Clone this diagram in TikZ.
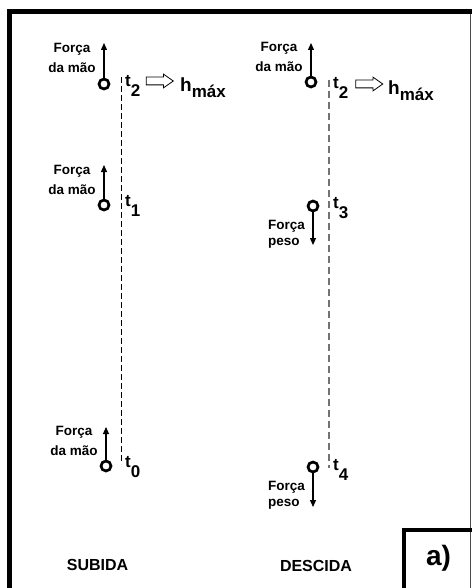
\documentclass[tikz,border=0pt]{standalone}
\usepackage{fontspec}
\setmainfont{Liberation Sans}
\usetikzlibrary{arrows.meta,shapes.arrows}
\newcommand{\tidx}[1]{t\lower10pt\hbox{#1}}
\newcommand{\hmaxtxt}{h\lower6pt\hbox{\fontsize{17}{17}\selectfont máx}}

\begin{document}
\begin{tikzpicture}[x=1pt, y=-1pt,
   ball/.style={draw, circle, line width=2.7pt, minimum size=10pt, inner sep=0pt},
   force/.style={-{Triangle[length=7pt,width=6pt]}, line width=1.2pt},
   maolbl/.style={font=\bfseries\fontsize{13.5}{20.5}\selectfont, align=center, inner sep=0pt},
   pesolbl/.style={font=\bfseries\fontsize{13.5}{16}\selectfont, align=left, anchor=west, inner sep=0pt},
   tlbl/.style={font=\bfseries\fontsize{17}{17}\selectfont, anchor=base west, inner sep=0pt},
   hollow/.style={draw, single arrow, line width=0.8pt, minimum height=27pt, inner xsep=0pt,
                  inner ysep=3.5pt, single arrow head extend=3pt, single arrow tip angle=70},
   hlbl/.style={font=\bfseries\fontsize{19}{19}\selectfont, anchor=base west, inner sep=0pt},
   title/.style={font=\bfseries\fontsize{16}{16}\selectfont, inner sep=0pt}]

\useasboundingbox (0,0) rectangle (472,588);

% frame and box a)
\draw[line width=5pt] (9,588) -- (9,12) -- (472,12);
\draw[line width=1.2pt, black!70] (470.5,14) -- (470.5,588);
\draw[line width=4pt] (404,588) -- (404,530) -- (472,530);
\node[font=\bfseries\fontsize{28}{28}\selectfont] (letra) at (438.5,558.5) {a)};

% subida
\coordinate (sTop) at (121,77);
\coordinate (sBot) at (121,464);
\draw[dashed, dash pattern=on 6pt off 3pt, line width=0.8pt] (sTop) -- (sBot);

\node[ball] (s2) at (104,84) {};
\node[ball] (s1) at (104,205) {};
\node[ball] (s0) at (106,466) {};
\coordinate (s2f) at (104,43);
\coordinate (s1f) at (104,165);
\coordinate (s0f) at (106,427);
\draw[force] (s2) -- (s2f);
\draw[force] (s1) -- (s1f);
\draw[force] (s0) -- (s0f);
\node[maolbl] (s2m) at (72,58) {Força\\da mão};
\node[maolbl] (s1m) at (72,180) {Força\\da mão};
\node[maolbl] (s0m) at (74,441) {Força\\da mão};

\node[tlbl] (s2t) at (125,87) {\tidx{2}};
\node[tlbl] (s1t) at (125,206) {\tidx{1}};
\node[tlbl] (s0t) at (125,467) {\tidx{0}};
\node[hollow] (s2a) at (157,81) {};
\node[hlbl] (s2h) at (180,92) {\hmaxtxt};

\node[title] (subida) at (97.5,564.5) {SUBIDA};

% descida
\coordinate (dTop) at (329,80);
\coordinate (dBot) at (329,468);
\draw[dashed, dash pattern=on 7pt off 4pt, line width=1.3pt, black!55] (dTop) -- (dBot);

\node[ball] (d2) at (311,82) {};
\node[ball] (d3) at (313,206) {};
\node[ball] (d4) at (313,467) {};
\coordinate (d2f) at (311,43);
\coordinate (d3f) at (313,245);
\coordinate (d4f) at (313,507);
\draw[force] (d2) -- (d2f);
\draw[force] (d3) -- (d3f);
\draw[force] (d4) -- (d4f);
\node[maolbl] (d2m) at (279,57) {Força\\da mão};
\node[pesolbl] (d3p) at (268,234) {Força\\peso};
\node[pesolbl] (d4p) at (268,495) {Força\\peso};

\node[tlbl] (d2t) at (333,89) {\tidx{2}};
\node[tlbl] (d3t) at (333,208) {\tidx{3}};
\node[tlbl] (d4t) at (333,470) {\tidx{4}};
\node[hollow] (d2a) at (366.5,84) {};
\node[hlbl] (d2h) at (388,95) {\hmaxtxt};

\node[title] (descida) at (316,565.5) {DESCIDA};

\end{tikzpicture}
\end{document}
